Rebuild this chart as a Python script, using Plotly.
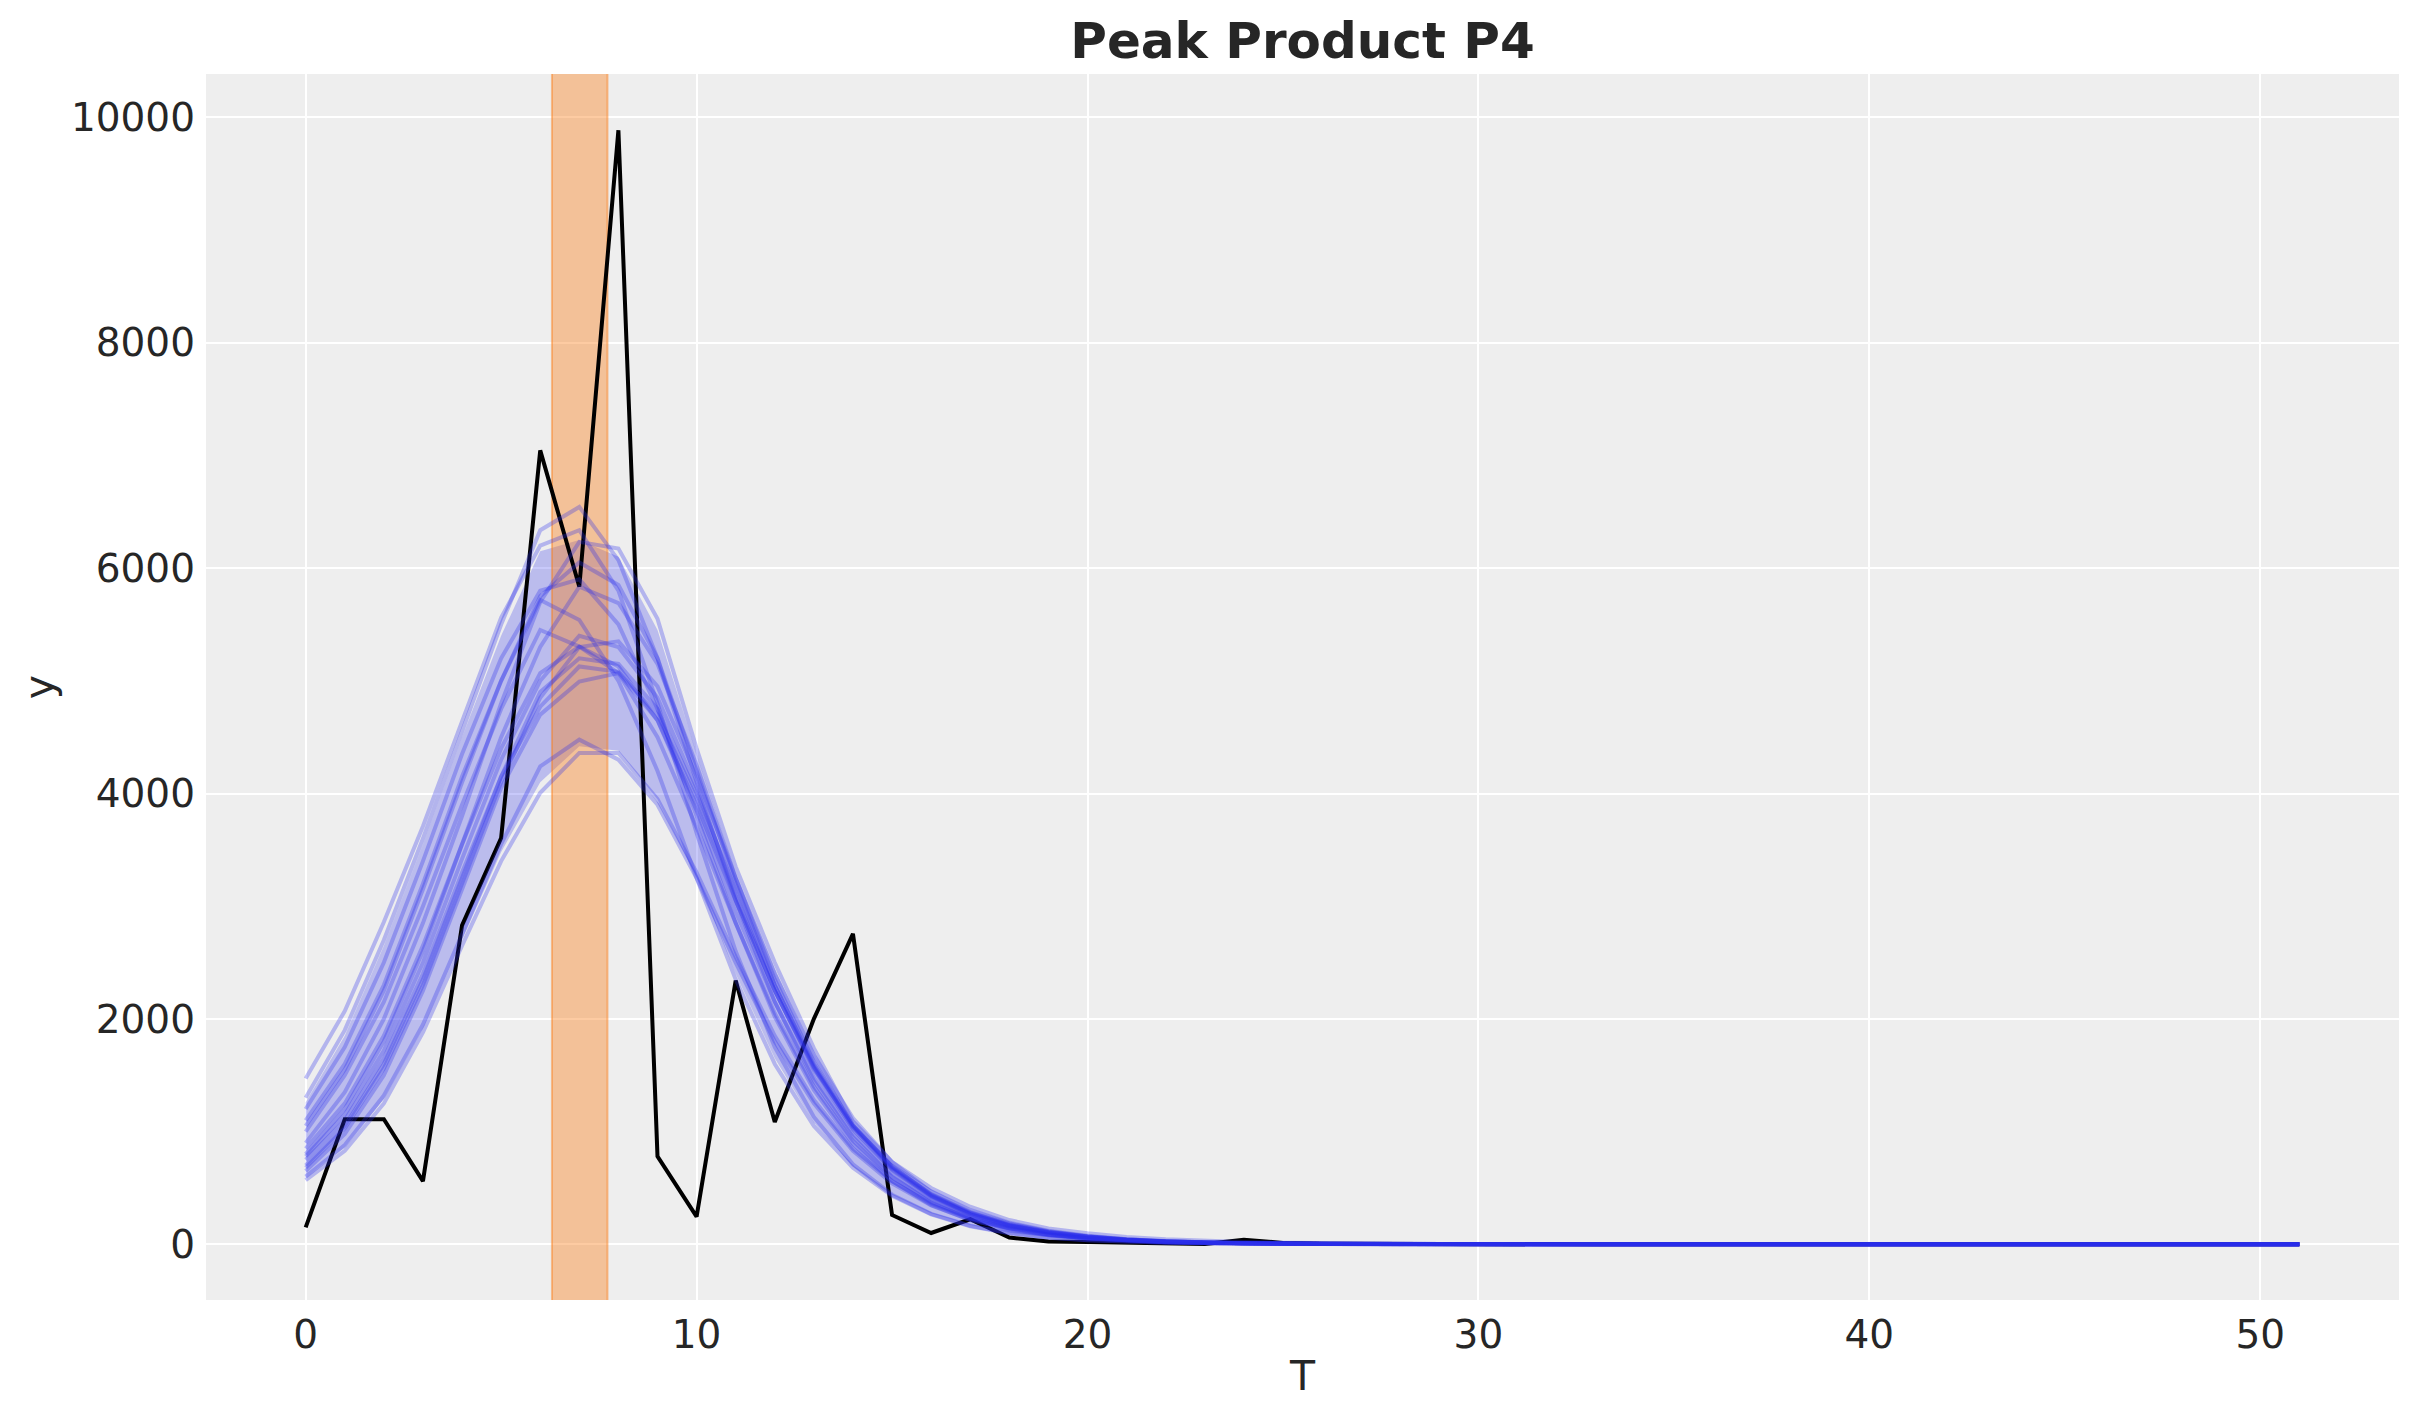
import plotly.graph_objects as go

# ---------------- data ----------------
T = list(range(52))

observed = [150, 1110, 1110, 560, 2830, 3605, 7045, 5835, 9885, 780,
            245, 2340, 1085, 2000, 2755, 260, 100, 222, 60, 25,
            20, 12, 8, 3, 40, 12, 5, 3, 2, 0,
            0, 0, 0, 0, 0, 0, 0, 0, 0, 0,
            0, 0, 0, 0, 0, 0, 0, 0, 0, 0,
            0, 0]

# posterior predictive samples, values for T = 0..30 (the rest are zero)
TAIL = [0, 0, 0, 0, 0, 0, 0, 0, 0, 0, 0, 0, 0, 0, 0, 0, 0, 0, 0, 0, 0]

sample_a = [1300, 1900, 2700, 3600, 4550, 5500, 6336, 6543, 6071, 5200, 4100, 3050, 2150, 1450, 950, 600, 380, 235, 145, 88, 54, 33, 20, 12, 7, 4, 3, 2, 1, 1, 0]
sample_b = [1470, 2070, 2860, 3710, 4640, 5560, 6200, 6336, 5800, 4800, 3650, 2600, 1750, 1130, 710, 440, 270, 165, 100, 60, 36, 22, 13, 8, 5, 3, 2, 1, 1, 0, 0]
sample_c = [900, 1350, 2000, 2850, 3800, 4800, 5700, 6233, 6174, 5550, 4400, 3350, 2500, 1740, 1090, 730, 500, 333, 215, 140, 97, 65, 44, 30, 20, 13, 9, 6, 4, 3, 2]
sample_d = [1100, 1600, 2300, 3200, 4150, 5000, 5717, 5540, 5000, 4200, 3250, 2350, 1600, 1050, 680, 430, 265, 160, 97, 58, 35, 21, 13, 8, 5, 3, 2, 1, 1, 0, 0]
sample_e = [1000, 1500, 2150, 3000, 3900, 4750, 5451, 5304, 5068, 4500, 3700, 2850, 2050, 1400, 920, 590, 370, 230, 140, 86, 53, 32, 19, 12, 7, 4, 3, 2, 1, 1, 0]
sample_f = [800, 1200, 1800, 2600, 3550, 4500, 5300, 5835, 5690, 5150, 4250, 3250, 2350, 1620, 1060, 680, 430, 270, 168, 104, 64, 39, 24, 15, 9, 5, 3, 2, 1, 1, 0]
sample_g = [850, 1250, 1850, 2650, 3550, 4400, 5068, 5304, 5127, 4650, 3850, 2950, 2150, 1480, 980, 630, 400, 250, 155, 96, 59, 36, 22, 13, 8, 5, 3, 2, 1, 1, 0]
sample_h = [700, 1050, 1600, 2350, 3250, 4150, 4900, 5200, 5150, 4750, 4000, 3150, 2300, 1600, 1060, 690, 440, 280, 175, 110, 68, 42, 26, 16, 10, 6, 4, 2, 1, 1, 0]
sample_i = [750, 1100, 1650, 2400, 3300, 4150, 4770, 5127, 5080, 4700, 3950, 3050, 2250, 1560, 1040, 680, 435, 275, 172, 107, 66, 41, 25, 15, 9, 6, 4, 2, 1, 1, 0]
sample_j = [650, 980, 1500, 2250, 3150, 4050, 4700, 4994, 5068, 4650, 3900, 3050, 2250, 1570, 1050, 690, 445, 285, 180, 112, 70, 43, 27, 16, 10, 6, 4, 2, 1, 1, 0]
sample_k = [600, 880, 1320, 1950, 2750, 3550, 4240, 4478, 4300, 3900, 3250, 2500, 1800, 1250, 830, 540, 345, 218, 136, 84, 52, 32, 19, 12, 7, 4, 3, 2, 1, 1, 0]
sample_l = [570, 830, 1250, 1880, 2650, 3400, 4006, 4360, 4360, 3950, 3300, 2550, 1850, 1280, 850, 560, 360, 228, 142, 88, 54, 33, 20, 12, 7, 4, 3, 2, 1, 1, 0]
sample_m = [1050, 1550, 2250, 3150, 4100, 5000, 5750, 6050, 5850, 5200, 4200, 3200, 2300, 1580, 1040, 670, 425, 265, 165, 102, 63, 38, 23, 14, 9, 5, 3, 2, 1, 1, 0]
sample_n = [680, 1030, 1560, 2300, 3200, 4100, 4850, 5300, 5350, 4950, 4150, 3250, 2400, 1680, 1120, 730, 465, 295, 185, 115, 71, 44, 27, 16, 10, 6, 4, 2, 1, 1, 0]
sample_o = [1200, 1750, 2500, 3400, 4350, 5200, 5800, 5900, 5500, 4750, 3800, 2850, 2020, 1370, 890, 560, 350, 215, 131, 80, 49, 30, 18, 11, 6, 4, 2, 1, 1, 0, 0]
sample_p = [780, 1150, 1720, 2500, 3420, 4300, 5000, 5400, 5300, 4850, 4050, 3100, 2250, 1550, 1020, 660, 420, 265, 165, 102, 63, 39, 24, 14, 9, 5, 3, 2, 1, 1, 0]

samples = [sample_a, sample_b, sample_c, sample_d, sample_e, sample_f, sample_g, sample_h,
           sample_i, sample_j, sample_k, sample_l, sample_m, sample_n, sample_o, sample_p]

# smoothed HDI band, values for T = 0..30 (the rest are zero)
hdi_upper = [1260, 1850, 2650, 3550, 4500, 5400, 6150, 6250, 6100, 5450, 4350, 3300, 2450, 1700, 1070, 720, 490, 325, 210, 137, 94, 63, 42, 28, 19, 12, 8, 5, 3, 2, 1]
hdi_lower = [590, 860, 1290, 1920, 2700, 3480, 4100, 4420, 4380, 3950, 3250, 2400, 1650, 1080, 690, 440, 275, 170, 103, 62, 38, 23, 14, 9, 5, 3, 2, 1, 1, 0, 0]

# peak window
band_start = 6.3
band_end = 7.72

title_text = "Peak Product P4"
x_label = "T"
y_label = "y"
x_ticks = [0, 10, 20, 30, 40, 50]
y_ticks = [0, 2000, 4000, 6000, 8000, 10000]

# ---------------- figure ----------------
BLUE = "42,46,236"
FONT = "DejaVu Sans"
TXT = "#262626"

x_range = [-2.55, 53.55]
y_range = [-494.5, 10384.5]

W, H = 2407, 1407

fig = go.Figure()

# HDI fill
upper_full = hdi_upper + TAIL
lower_full = hdi_lower + TAIL
fig.add_trace(go.Scatter(x=T, y=lower_full, mode="lines", line=dict(width=0),
                         hoverinfo="skip", showlegend=False))
fig.add_trace(go.Scatter(x=T, y=upper_full, mode="lines", line=dict(width=0),
                         fill="tonexty", fillcolor=f"rgba({BLUE},0.26)",
                         hoverinfo="skip", showlegend=False))

# peak window band (spans the full height; clipped to the plot area), below the lines
fig.add_trace(go.Scatter(
    x=[band_start, band_end, band_end, band_start, band_start],
    y=[y_range[0] - 1000, y_range[0] - 1000, y_range[1] + 1000, y_range[1] + 1000, y_range[0] - 1000],
    mode="lines", fill="toself", fillcolor="rgba(250,124,23,0.4)",
    line=dict(color="rgba(250,124,23,0.45)", width=2),
    hoverinfo="skip", showlegend=False))

# observed series
fig.add_trace(go.Scatter(x=T, y=observed, mode="lines",
                         line=dict(color="black", width=4), showlegend=False))

# posterior samples on top
for s in samples:
    fig.add_trace(go.Scatter(x=T, y=s + TAIL, mode="lines",
                             line=dict(color=f"rgba({BLUE},0.3)", width=4),
                             showlegend=False))

fig.update_layout(
    width=W, height=H, autosize=False,
    margin=dict(l=198, r=16, t=66, b=115),
    paper_bgcolor="white", plot_bgcolor="#eeeeee",
    font=dict(family=FONT, color=TXT, size=39),
    title=dict(text=f"<b>{title_text}</b>", x=(198 + (W - 16 - 198) / 2) / W, xanchor="center",
               y=1 - 32 / H, yanchor="middle", yref="container",
               font=dict(family=FONT, size=50, color=TXT)),
)
fig.update_xaxes(range=x_range, tickvals=x_ticks, ticks="", showline=False,
                 showgrid=True, gridcolor="white", gridwidth=2, zeroline=False,
                 tickfont=dict(size=39, color=TXT), ticklabelstandoff=8,
                 title=dict(text=x_label, font=dict(size=41, color=TXT), standoff=5))
fig.update_yaxes(range=y_range, tickvals=y_ticks, tickformat="d", ticks="", showline=False,
                 showgrid=True, gridcolor="white", gridwidth=2, zeroline=False,
                 tickfont=dict(size=39, color=TXT), ticklabelstandoff=10,
                 title=dict(text=y_label, font=dict(size=41, color=TXT), standoff=4))

fig.write_html("out.html")
